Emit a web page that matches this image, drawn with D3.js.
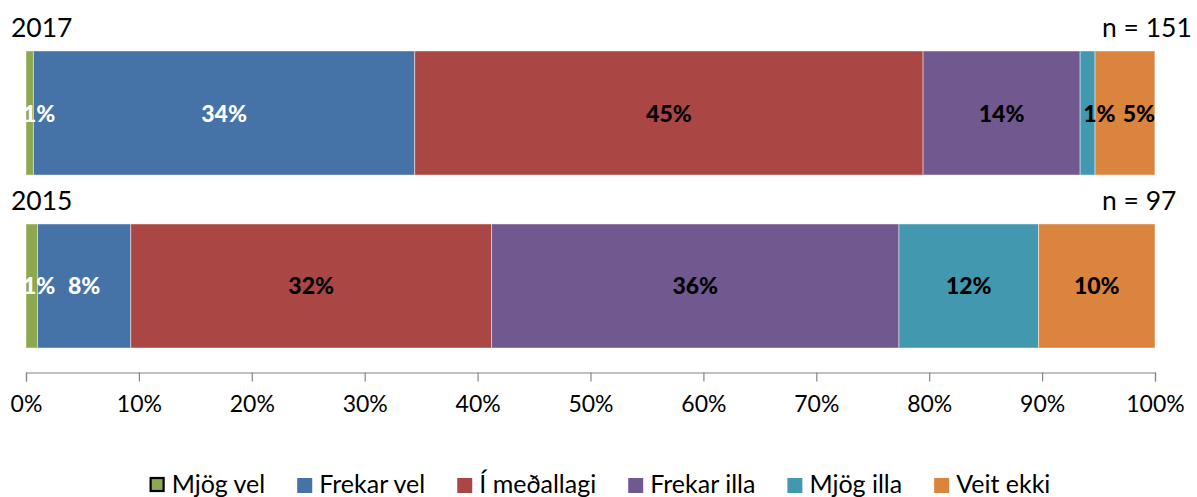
<!DOCTYPE html>
<html>
<head>
<meta charset="utf-8">
<script src="https://cdn.jsdelivr.net/npm/d3@7"></script>
<style>
  html, body { margin: 0; padding: 0; background: #fff; }
  svg text { font-family: Lato, "Open Sans", sans-serif; }
</style>
</head>
<body>
<svg id="chart" width="1197" height="497"></svg>
<script>
// ---- data ----
const years = ["2017", "2015"];
const sampleSizes = ["n = 151", "n = 97"];
const categories = ["Mjög vel", "Frekar vel", "Í meðallagi", "Frekar illa", "Mjög illa", "Veit ekki"];
const values2017 = [0.66, 33.77, 45.03, 13.91, 1.32, 5.30];
const values2015 = [1.03, 8.25, 31.96, 36.08, 12.37, 10.31];
const tickValues = [0, 10, 20, 30, 40, 50, 60, 70, 80, 90, 100];
const colors = ["#8DA84F", "#4572A7", "#AA4643", "#71588F", "#4198AF", "#DB843D"];
const labelColors = ["#fff", "#fff", "#000", "#000", "#000", "#000"];

const seriesByYear = { "2017": values2017, "2015": values2015 };

const svg = d3.select("#chart");
const x = d3.scaleLinear().domain([0, 100]).range([26, 1155]);
const y = d3.scaleBand().domain(years).range([51, 348]).paddingInner(0.283);

// stacked data
const rows = years.map(yr => {
  let acc = 0;
  return seriesByYear[yr].map((v, i) => {
    const s = { year: yr, cat: i, v, x0: acc, x1: acc + v };
    acc += v;
    return s;
  });
});

// bars
years.forEach((yr, r) => {
  const g = svg.append("g");
  g.selectAll("rect").data(rows[r]).join("rect")
    .attr("x", d => x(d.x0))
    .attr("y", y(yr))
    .attr("width", d => x(d.x1) - x(d.x0))
    .attr("height", y.bandwidth())
    .attr("fill", d => colors[d.cat])
    .attr("stroke", "rgba(255,255,255,0.45)")
    .attr("stroke-width", 1);
});

// labels
const fmt = v => Math.round(v) + "%";
years.forEach((yr, r) => {
  const g = svg.append("g");
  const texts = g.selectAll("text").data(rows[r]).join("text")
    .attr("y", y(yr) + y.bandwidth() / 2 + 8.5)
    .attr("text-anchor", "start")
    .attr("font-weight", "900")
    .attr("font-size", 23)
    .attr("fill", d => labelColors[d.cat])
    .text(d => fmt(d.v));
  // lay out labels: centred; narrow segments anchor at their start; avoid overlaps
  const boxes = [];
  texts.each(function (d, i) {
    const w = this.getComputedTextLength();
    const a = x(d.x0), b = x(d.x1);
    let left = (a + b) / 2 - w / 2;
    if (i === 0) left = Math.max(left, x(0) - 3);
    else if (w > b - a) left = a + 3;
    boxes.push({ el: this, left, w });
  });
  for (let i = 1; i < boxes.length; i++) {
    const prev = boxes[i - 1];
    if (boxes[i].left < prev.left + prev.w + 10) boxes[i].left = prev.left + prev.w + 10;
  }
  const last = boxes[boxes.length - 1];
  if (last.left + last.w > x(100)) last.left = x(100) - last.w;
  boxes.forEach(bx => bx.el.setAttribute("x", bx.left));
});

// year titles and n
years.forEach((yr, r) => {
  svg.append("text")
    .attr("x", 11).attr("y", y(yr) - 14)
    .attr("font-size", 26.5).attr("fill", "#000")
    .text(yr);
  svg.append("text")
    .attr("x", 1102).attr("y", y(yr) - 14)
    .attr("font-size", 26.5).attr("fill", "#000")
    .text(sampleSizes[r]);
});

// axis
const axis = d3.axisBottom(x).tickValues(tickValues).tickSize(9).tickPadding(14)
  .tickFormat(d => d + "%");
const ag = svg.append("g").attr("transform", "translate(0,372.5)").call(axis);
ag.select(".domain").attr("stroke", "#868686").attr("stroke-width", 1.2);
ag.selectAll(".tick line").attr("stroke", "#868686").attr("stroke-width", 1.2);
ag.selectAll(".tick text").attr("font-size", 23).attr("fill", "#000")
  .attr("font-family", "Lato, sans-serif");

// legend
const lg = svg.append("g");
let lx = 0;
categories.forEach((c, i) => {
  const it = lg.append("g");
  it.append("rect")
    .attr("x", lx + (i === 0 ? 1 : 0)).attr("y", 478)
    .attr("width", i === 0 ? 13 : 15).attr("height", i === 0 ? 13 : 15)
    .attr("fill", colors[i])
    .attr("stroke", i === 0 ? "#000" : "none")
    .attr("stroke-width", 2.2);
  const t = it.append("text")
    .attr("x", lx + 22).attr("y", 492.5)
    .attr("font-size", 25).attr("fill", "#000")
    .text(c);
  lx += 22 + t.node().getComputedTextLength() + 32;
});
const legendWidth = lx - 32;
lg.attr("transform", `translate(${(155 + 1045) / 2 - legendWidth / 2},0)`);
</script>
</body>
</html>
